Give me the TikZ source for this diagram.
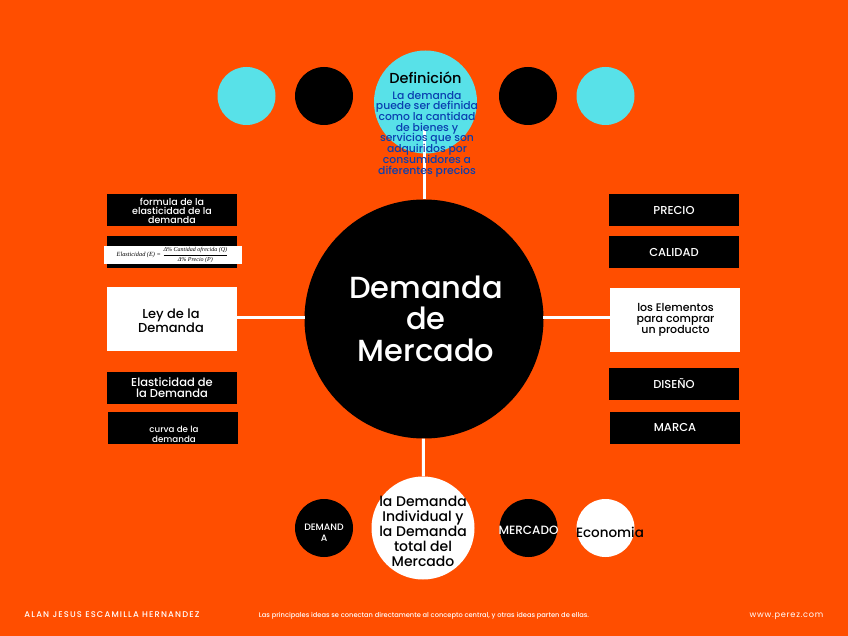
\documentclass[tikz,border=0pt]{standalone}
\usepackage{fontspec}
\setmainfont{Poppins Medium}
\newfontfamily\formulafont{Liberation Serif}
\newfontfamily\autorfont[LetterSpace=14]{Poppins Medium}
\newfontfamily\webfont[LetterSpace=9]{Poppins}
\usetikzlibrary{positioning}
\definecolor{fondo}{HTML}{FF4E00}
\definecolor{cielo}{HTML}{58E1E8}
\definecolor{azul}{HTML}{0A3FB0}
\tikzset{
    cajan/.style = {rectangle, fill=black, text=white, minimum width = 130pt, minimum height = 32pt, inner sep=0pt, align=center, font=\fontsize{11.5}{10.5}\selectfont},
    cajab/.style = {rectangle, fill=white, text=black, minimum width = 130pt, minimum height = 64pt, inner sep=0pt, align=center, font=\fontsize{13}{14}\selectfont},
    bolan/.style = {circle, fill=black, text=white, minimum size = 58pt, inner sep=0pt, align=center},
    bolac/.style = {circle, fill=cielo, minimum size = 58pt, inner sep=0pt},
    bolab/.style = {circle, fill=white, text=black, inner sep=0pt, align=center},
    pie/.style = {text=white, inner sep=0pt},
    enlace/.style = {white, line width=3pt},
}
\begin{document}
\lineskiplimit=-20pt
\begin{tikzpicture}[x=1pt,y=-1pt]
\path[use as bounding box, fill=fondo] (0,0) rectangle (848,636);
%
\node[bolac] at (246.5,96) (c1) {};
\node[bolan] at (324,96) (n1) {};
\node[bolac, minimum size=103pt] at (425.5,102) (defin) {};
\node[bolan] at (528,96) (n2) {};
\node[bolac] at (605.5,96) (c2) {};
%
\node[circle, fill=black, minimum size=239pt, inner sep=0pt] at (424,319) (central) {};
%
\node[cajan, font=\fontsize{9.5}{9}\selectfont] at (172,210.5) (formula) {formula de la\\elasticidad de la\\demanda};
\node[cajan] at (172,252) (negra) {};
\node[cajab] at (172,319) (ley) {};
\node[cajan] at (172,387.5) (elast) {Elasticidad de\\la Demanda};
\node[cajan] at (173,428) (curva) {};
\node[font=\fontsize{8.7}{10.5}\selectfont, text=white, align=center] at (174,434.5) (curvat) {curva de la\\demanda};
%
\node[rectangle, fill=white, minimum width=138pt, minimum height=18pt, inner sep=0pt, font=\formulafont\itshape\fontsize{6.3}{6.3}\selectfont] at (172.5,255) (ecua) {Elasticidad (E) = $\displaystyle\frac{\hbox{\fontsize{6}{6}\selectfont Δ\% Cantidad ofrecida (Q)}}{\hbox{\fontsize{6}{6}\selectfont Δ\% Precio (P)}}$};
%
\node[cajan] at (674,210) (precio) {PRECIO};
\node[cajan] at (674,252) (calidad) {CALIDAD};
\node[cajab] at (675,319.5) (elem) {};
\node[cajan] at (674,384) (diseno) {DISEÑO};
\node[cajan] at (675,427.7) (marca) {MARCA};
%
\node[bolan] at (324,528) (dem) {};
\node[bolab, minimum size=103pt] at (423,528) (indiv) {};
\node[bolan] at (528.5,528) (merc) {};
\node[bolab, minimum size=58pt] at (605.5,528) (econ) {};
%
\coordinate (izq) at (305,317.5);
\coordinate (der) at (543,317.5);
\draw[enlace] (central) -- (424,130) coordinate (arriba);
\draw[enlace] (central) -- (indiv);
\draw[enlace] (ley.east |- izq) -- (izq);
\draw[enlace] (der) -- (elem.west |- der);
%
\node[font=\fontsize{13}{14}\selectfont, text=black, align=center] at (171,320.5) (leyT) {Ley de la\\Demanda};
\node[font=\fontsize{11}{11}\selectfont, text=black, align=center] at (675.5,319.5) (elemT) {los Elementos\\para comprar\\un producto};
\node[font=\fontsize{14.5}{14}\selectfont, text=black] at (425.5,78) (definT) {Definición};
\node[font=\fontsize{10.8}{10.7}\selectfont, text=azul, align=center] at (427,134) (definD) {La demanda\\puede ser definida\\como la cantidad\\de bienes y\\servicios que son\\adquiridos por\\consumidores a\\diferentes precios};
\node[font=\fontsize{30.5}{31.5}\selectfont, text=white, align=center] at (426,318.5) (centralT) {Demanda\\de\\Mercado};
\node[font=\fontsize{14}{15}\selectfont, text=black, align=center] at (423,531.5) (indivT) {la Demanda\\Individual y\\la Demanda\\total del\\Mercado};
\node[font=\fontsize{9.3}{10.5}\selectfont, text=white, align=center] at (324,533) (demT) {DEMAND\\A};
\node[font=\fontsize{12}{12}\selectfont, text=white] at (528.5,530) (mercT) {MERCADO};
\node[font=\fontsize{13.5}{14}\selectfont, text=black] at (610,532) (econT) {Economia};
%
\node[pie, font=\autorfont\fontsize{8.3}{8}\selectfont] at (112,614.5) (autor) {ALAN JESUS ESCAMILLA HERNANDEZ};
\node[pie, font=\fontsize{6.7}{7}\selectfont] at (424,616) (lema) {Las principales ideas se conectan directamente al concepto central, y otras ideas parten de ellas.};
\node[pie, font=\webfont\fontsize{8.2}{8}\selectfont] at (786.5,616) (web) {www.perez.com};
\end{tikzpicture}
\end{document}
